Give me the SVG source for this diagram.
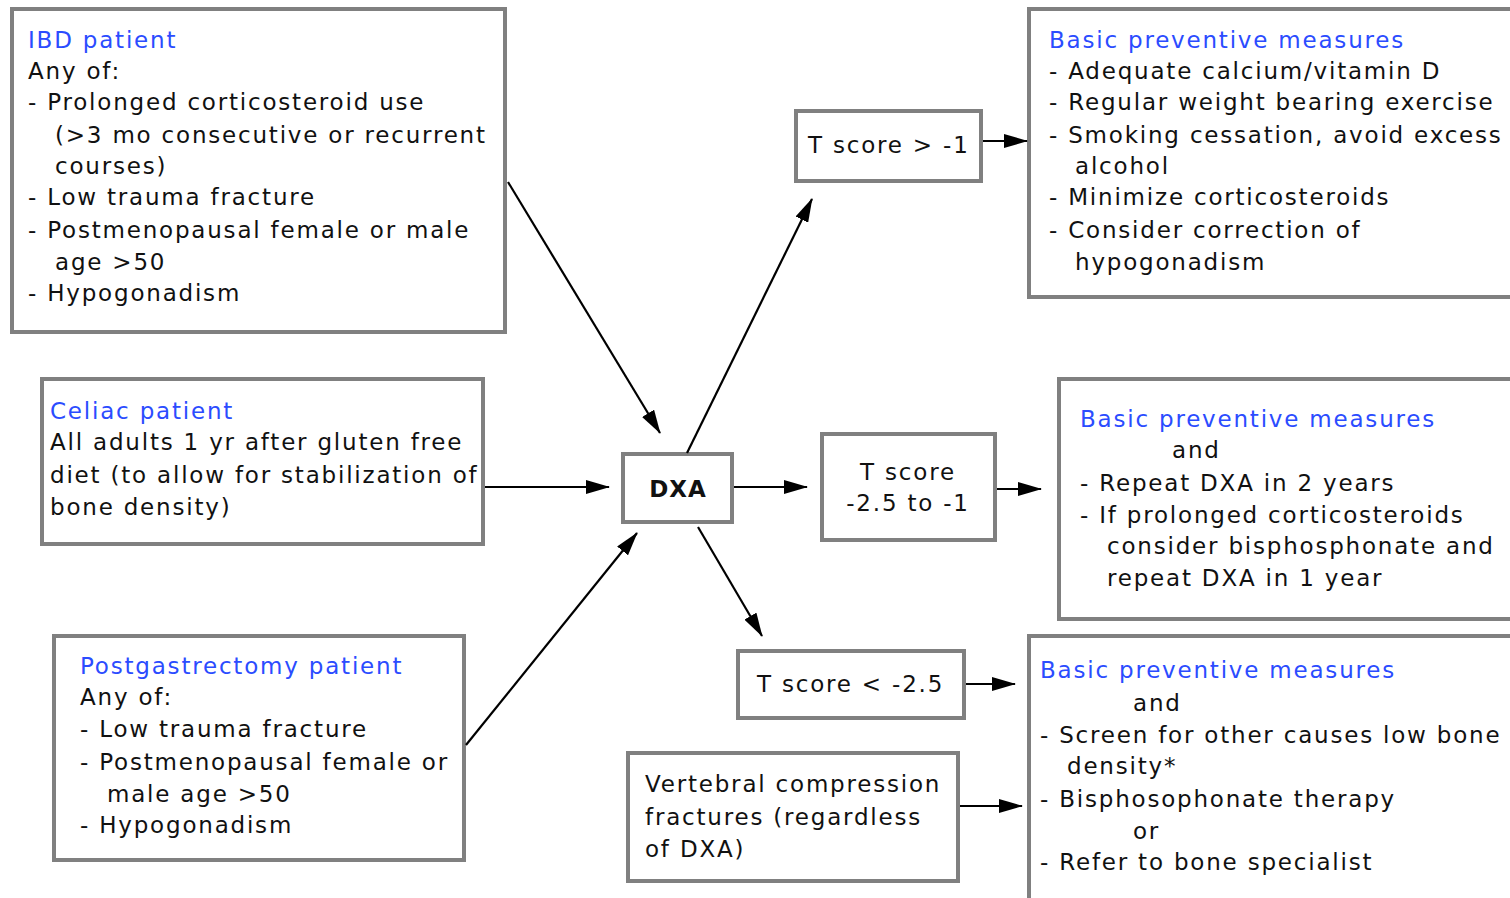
<svg xmlns="http://www.w3.org/2000/svg" width="1510" height="898" viewBox="0 0 1510 898">
  <style>
    .box { fill: #ffffff; stroke: #808080; stroke-width: 4; }
    text { font-family: "DejaVu Sans", Verdana, sans-serif; font-size: 23px; fill: #111111; letter-spacing: 1.8px; }
    .head { fill: #2b4cff; }
    .bold { font-weight: bold; letter-spacing: 1px; }
    .mid { text-anchor: middle; }
    .link { stroke: #000000; stroke-width: 2.2; fill: none; marker-end: url(#arrow); }
  </style>
  <defs>
    <marker id="arrow" markerWidth="24" markerHeight="14" refX="23" refY="7" orient="auto" markerUnits="userSpaceOnUse">
      <path d="M0,0 L24,7 L0,14 Z" fill="#000000"/>
    </marker>
  </defs>
  <rect width="1510" height="898" fill="#ffffff"/>

  <!-- patient groups -->
  <g id="ibd">
    <rect class="box" x="12" y="9" width="493" height="323"/>
    <text x="28" y="48" class="head">IBD patient</text>
    <text x="28" y="79">Any of:</text>
    <text x="28" y="110">- Prolonged corticosteroid use</text>
    <text x="55" y="143">(&gt;3 mo consecutive or recurrent</text>
    <text x="55" y="174">courses)</text>
    <text x="28" y="205">- Low trauma fracture</text>
    <text x="28" y="238">- Postmenopausal female or male</text>
    <text x="55" y="270">age &gt;50</text>
    <text x="28" y="301">- Hypogonadism</text>
  </g>

  <g id="celiac">
    <rect class="box" x="42" y="379" width="441" height="165"/>
    <text x="50" y="419" class="head">Celiac patient</text>
    <text x="50" y="450">All adults 1 yr after gluten free</text>
    <text x="50" y="483">diet (to allow for stabilization of</text>
    <text x="50" y="515">bone density)</text>
  </g>

  <g id="postgastrectomy">
    <rect class="box" x="54" y="636" width="410" height="224"/>
    <text x="80" y="674" class="head">Postgastrectomy patient</text>
    <text x="80" y="705">Any of:</text>
    <text x="80" y="737">- Low trauma fracture</text>
    <text x="80" y="770">- Postmenopausal female or</text>
    <text x="107" y="802">male age &gt;50</text>
    <text x="80" y="833">- Hypogonadism</text>
  </g>

  <!-- central test -->
  <g id="dxa">
    <rect class="box" x="623" y="454" width="109" height="68"/>
    <text x="678" y="497" class="mid bold">DXA</text>
  </g>

  <!-- T score results -->
  <g id="t-normal">
    <rect class="box" x="796" y="111" width="185" height="70"/>
    <text x="808" y="153">T score &gt; -1</text>
  </g>

  <g id="t-osteopenia">
    <rect class="box" x="822" y="434" width="173" height="106"/>
    <text x="908" y="480" class="mid">T score</text>
    <text x="908" y="511" class="mid">-2.5 to -1</text>
  </g>

  <g id="t-osteoporosis">
    <rect class="box" x="738" y="651" width="226" height="67"/>
    <text x="757" y="692">T score &lt; -2.5</text>
  </g>

  <g id="vertebral">
    <rect class="box" x="628" y="753" width="330" height="128"/>
    <text x="645" y="792">Vertebral compression</text>
    <text x="645" y="825">fractures (regardless</text>
    <text x="645" y="857">of DXA)</text>
  </g>

  <!-- management boxes -->
  <g id="manage-normal">
    <rect class="box" x="1029" y="9" width="500" height="288"/>
    <text x="1049" y="48" class="head">Basic preventive measures</text>
    <text x="1049" y="79">- Adequate calcium/vitamin D</text>
    <text x="1049" y="110">- Regular weight bearing exercise</text>
    <text x="1049" y="143">- Smoking cessation, avoid excess</text>
    <text x="1075" y="174">alcohol</text>
    <text x="1049" y="205">- Minimize corticosteroids</text>
    <text x="1049" y="238">- Consider correction of</text>
    <text x="1075" y="270">hypogonadism</text>
  </g>

  <g id="manage-osteopenia">
    <rect class="box" x="1059" y="379" width="470" height="240"/>
    <text x="1080" y="427" class="head">Basic preventive measures</text>
    <text x="1172" y="458">and</text>
    <text x="1080" y="491">- Repeat DXA in 2 years</text>
    <text x="1080" y="523">- If prolonged corticosteroids</text>
    <text x="1107" y="554">consider bisphosphonate and</text>
    <text x="1107" y="586">repeat DXA in 1 year</text>
  </g>

  <g id="manage-osteoporosis">
    <rect class="box" x="1029" y="636" width="500" height="280"/>
    <text x="1040" y="678" class="head">Basic preventive measures</text>
    <text x="1133" y="711">and</text>
    <text x="1040" y="743">- Screen for other causes low bone</text>
    <text x="1067" y="774">density*</text>
    <text x="1040" y="807">- Bisphosophonate therapy</text>
    <text x="1133" y="839">or</text>
    <text x="1040" y="870">- Refer to bone specialist</text>
  </g>

  <!-- connectors -->
  <g id="connectors">
    <line class="link" x1="508" y1="182" x2="660" y2="433"/>
    <line class="link" x1="485" y1="487" x2="609" y2="487"/>
    <line class="link" x1="466" y1="745" x2="637" y2="533"/>
    <line class="link" x1="687" y1="453" x2="812" y2="199"/>
    <line class="link" x1="734" y1="487" x2="807" y2="487"/>
    <line class="link" x1="698" y1="527" x2="762" y2="636"/>
    <line class="link" x1="983" y1="141" x2="1027" y2="141"/>
    <line class="link" x1="997" y1="489" x2="1041" y2="489"/>
    <line class="link" x1="966" y1="684" x2="1015" y2="684"/>
    <line class="link" x1="960" y1="806" x2="1022" y2="806"/>
  </g>
</svg>
